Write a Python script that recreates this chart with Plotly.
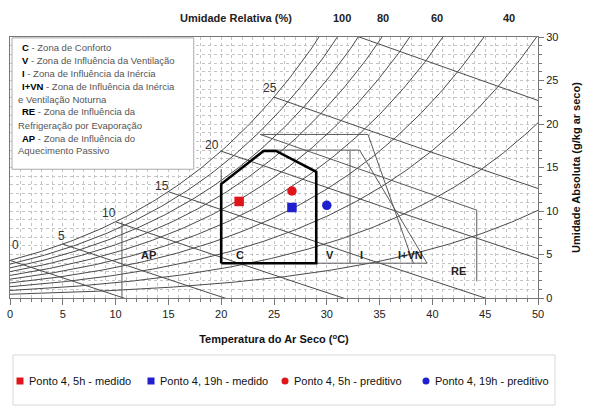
import numpy as np
import plotly.graph_objects as go

# ---------------- data ----------------
point_names = ["Ponto 4, 5h - medido", "Ponto 4, 19h - medido",
               "Ponto 4, 5h - preditivo", "Ponto 4, 19h - preditivo"]
point_temp = [21.7, 26.7, 26.7, 30.0]          # dry bulb temperature (C)
point_hum = [11.1, 10.4, 12.3, 10.65]          # absolute humidity (g/kg)
point_colors = ["#e0151b", "#1f1fcf", "#e0151b", "#1f1fcf"]
point_symbols = ["square", "square", "circle", "circle"]

rh_levels = [10, 20, 30, 40, 50, 60, 70, 80, 90, 100]   # relative humidity curves (%)
rh_labels = ["100", "80", "60", "40"]
rh_label_temp = [31.4, 35.3, 40.4, 47.3]
wb_levels = [0, 5, 10, 15, 20, 25, 30]                   # wet bulb lines (C)
wb_label_temp = [0.5, 4.9, 9.4, 14.4, 19.1, 24.6]
wb_label_hum = [6.1, 7.1, 9.8, 12.9, 17.6, 24.1]
pressure_kpa = 88.5                                      # chart barometric pressure

# comfort zone polygon (thick)
comfort_temp = [20, 20, 24, 25.2, 29, 29, 20]
comfort_hum = [4, 13.1, 16.9, 16.9, 14.5, 4, 4]

# thin zone boundaries
zone_segments = [
    ([20, 20], [13.1, 14.8]),
    ([24, 33.1, 39.5], [17, 17, 4]),
    ([23.7, 33.9, 38.2], [18.8, 18.8, 4]),
    ([32.2, 32.2], [17, 4]),
    ([29, 39.5], [4, 4]),
    ([23.7, 44.2, 44.2], [18.8, 10.1, 1.9]),
    ([10.6, 10.6], [8.8, 0]),
]
zone_labels = ["AP", "C", "V", "I", "I+VN", "RE"]
zone_label_temp = [13.1, 21.8, 30.3, 33.3, 37.9, 42.5]
zone_label_hum = [4.9, 4.9, 4.9, 4.9, 4.9, 3.1]

legend_lines = [
    ("C", " - Zona de Conforto"),
    ("V", " - Zona de Influência da Ventilação"),
    ("I", " - Zona de Influência da Inércia"),
    ("I+VN", " - Zona de Influência da Inércia"),
    ("", "e Ventilação Noturna"),
    ("RE", " - Zona de Influência da"),
    ("", "Refrigeração por Evaporação"),
    ("AP", " - Zona de Influência do"),
    ("", "Aquecimento Passivo"),
]

FONT = "Liberation Sans, Arial, sans-serif"
LINE = "#4a4a4a"


def psat(t):
    return 0.61078 * np.exp(17.27 * t / (t + 237.3))


def wsat(t):
    p = psat(t)
    return 622.0 * p / (pressure_kpa - p)


fig = go.Figure()

# relative humidity curves
tt = np.linspace(0, 50, 201)
for rh in rh_levels:
    fig.add_trace(go.Scatter(x=tt, y=rh / 100 * wsat(tt), mode="lines",
                             line=dict(color=LINE, width=1), showlegend=False,
                             hoverinfo="skip"))

# wet bulb lines
for twb in wb_levels:
    ws = wsat(twb) / 1000
    t = np.linspace(twb, 60, 200)
    w = ((2501 - 2.326 * twb) * ws - 1.006 * (t - twb)) / (2501 + 1.86 * t - 4.186 * twb) * 1000
    keep = w > -1
    fig.add_trace(go.Scatter(x=t[keep], y=w[keep], mode="lines",
                             line=dict(color=LINE, width=1), showlegend=False,
                             hoverinfo="skip"))

# zones
for xs, ys in zone_segments:
    fig.add_trace(go.Scatter(x=xs, y=ys, mode="lines",
                             line=dict(color="#5a5a5a", width=1), showlegend=False,
                             hoverinfo="skip"))
fig.add_trace(go.Scatter(x=comfort_temp, y=comfort_hum, mode="lines",
                         line=dict(color="black", width=2.6), showlegend=False,
                         hoverinfo="skip"))

# points
for n, t, w, c, s in zip(point_names, point_temp, point_hum, point_colors, point_symbols):
    fig.add_trace(go.Scatter(x=[t], y=[w], mode="markers", name=n,
                             marker=dict(color=c, symbol=s, size=9.5),
                             showlegend=False))

annotations = []
for lbl, t, w in zip(zone_labels, zone_label_temp, zone_label_hum):
    annotations.append(dict(x=t, y=w, xref="x", yref="y", text="<b>%s</b>" % lbl,
                            showarrow=False, font=dict(size=11, color="#222", family=FONT)))
for lbl, t, w in zip(wb_levels, wb_label_temp, wb_label_hum):
    annotations.append(dict(x=t, y=w, xref="x", yref="y", text=str(lbl),
                            showarrow=False, font=dict(size=12, color="#333", family=FONT)))

# top labels
annotations.append(dict(x=21.4, y=1.073, xref="x", yref="paper", yanchor="middle",
                        text="<b>Umidade Relativa (%)</b>",
                        showarrow=False, font=dict(size=11, color="#222", family=FONT)))
for lbl, t in zip(rh_labels, rh_label_temp):
    annotations.append(dict(x=t, y=1.073, xref="x", yref="paper", yanchor="middle",
                            text="<b>%s</b>" % lbl,
                            showarrow=False, font=dict(size=11, color="#222", family=FONT)))

# zone legend box text
line_y = [28.85, 27.3, 25.86, 24.3, 22.8, 21.38, 19.8, 18.39, 16.95]
for (code, rest), w in zip(legend_lines, line_y):
    if code:
        txt = "<span style='color:#000'><b>%s</b></span>%s" % (code, rest)
        x0 = 0.95
    else:
        txt = rest
        x0 = 0.57
    annotations.append(dict(x=x0, y=w, xref="x", yref="y", text=txt, xanchor="left",
                            showarrow=False, font=dict(size=9.5, color="#555", family=FONT)))

shapes = [dict(type="rect", xref="x", yref="y", x0=0.19, x1=17.4, y0=14.8, y1=29.9,
               fillcolor="white", line=dict(color="#aaaaaa", width=1), layer="above")]

# bottom legend (manual)
W_FIG, H_FIG = 591, 407
ML, MR, MT, MB = 10, 53, 37, 109
pw, ph = W_FIG - ML - MR, H_FIG - MT - MB


def px_to_paper(x, y):
    return (x - ML) / pw, (H_FIG - MB - y) / ph


bx0, by0 = px_to_paper(13, 355)
bx1, by1 = px_to_paper(555, 405)
shapes.append(dict(type="rect", xref="paper", yref="paper", x0=bx0, x1=bx1, y0=by1, y1=by0,
                   line=dict(color="#d8d8d8", width=1), fillcolor="white"))
leg_marker_x = [20, 151, 285, 426]
leg_text_x = [27, 158, 292, 433]
leg_y = 381
for n, c, s, mx, tx in zip(point_names, point_colors, point_symbols, leg_marker_x, leg_text_x):
    cx0, cy0 = px_to_paper(mx - 3.5, leg_y - 3.5)
    cx1, cy1 = px_to_paper(mx + 3.5, leg_y + 3.5)
    shapes.append(dict(type="rect" if s == "square" else "circle", xref="paper", yref="paper",
                       x0=cx0, x1=cx1, y0=cy1, y1=cy0, fillcolor=c, line=dict(width=0)))
    ax, ay = px_to_paper(tx, leg_y)
    annotations.append(dict(x=ax, y=ay, xref="paper", yref="paper", text=n, xanchor="left",
                            yanchor="middle", showarrow=False,
                            font=dict(size=11, color="#111", family=FONT)))

fig.update_layout(
    width=W_FIG, height=H_FIG,
    margin=dict(l=ML, r=MR, t=MT, b=MB, autoexpand=False),
    paper_bgcolor="white", plot_bgcolor="white",
    font=dict(family=FONT, size=11, color="#222"),
    annotations=annotations, shapes=shapes, showlegend=False,
)
fig.update_xaxes(range=[0, 50], dtick=5, tick0=0, showline=True, linecolor="#777", mirror=True,
                 ticks="outside", ticklen=6, tickcolor="#777",
                 showgrid=True, gridcolor="#c4c4c4", griddash="dot", gridwidth=1,
                 minor=dict(dtick=1, ticks="outside", ticklen=3, tickcolor="#777",
                            showgrid=True, gridcolor="#c4c4c4", griddash="dot"),
                 zeroline=False, tickfont=dict(size=11, color="#222"),
                 title=dict(text="<b>Temperatura do Ar Seco (<sup>o</sup>C)</b>",
                            font=dict(size=11, color="#111"), standoff=16))
fig.update_yaxes(range=[0, 30], dtick=5, tick0=0, side="right", showline=True, linecolor="#777",
                 mirror=True, ticks="outside", ticklen=5, tickcolor="#777",
                 showgrid=True, gridcolor="#c4c4c4", griddash="dot", gridwidth=1,
                 minor=dict(dtick=1, ticks="outside", ticklen=3, tickcolor="#777",
                            showgrid=True, gridcolor="#c4c4c4", griddash="dot"),
                 zeroline=False, tickfont=dict(size=11, color="#222"),
                 title=dict(text="<b>Umidade Absoluta (g/kg ar seco)</b>",
                            font=dict(size=11, color="#111"), standoff=14))

fig.write_html("out.html")
